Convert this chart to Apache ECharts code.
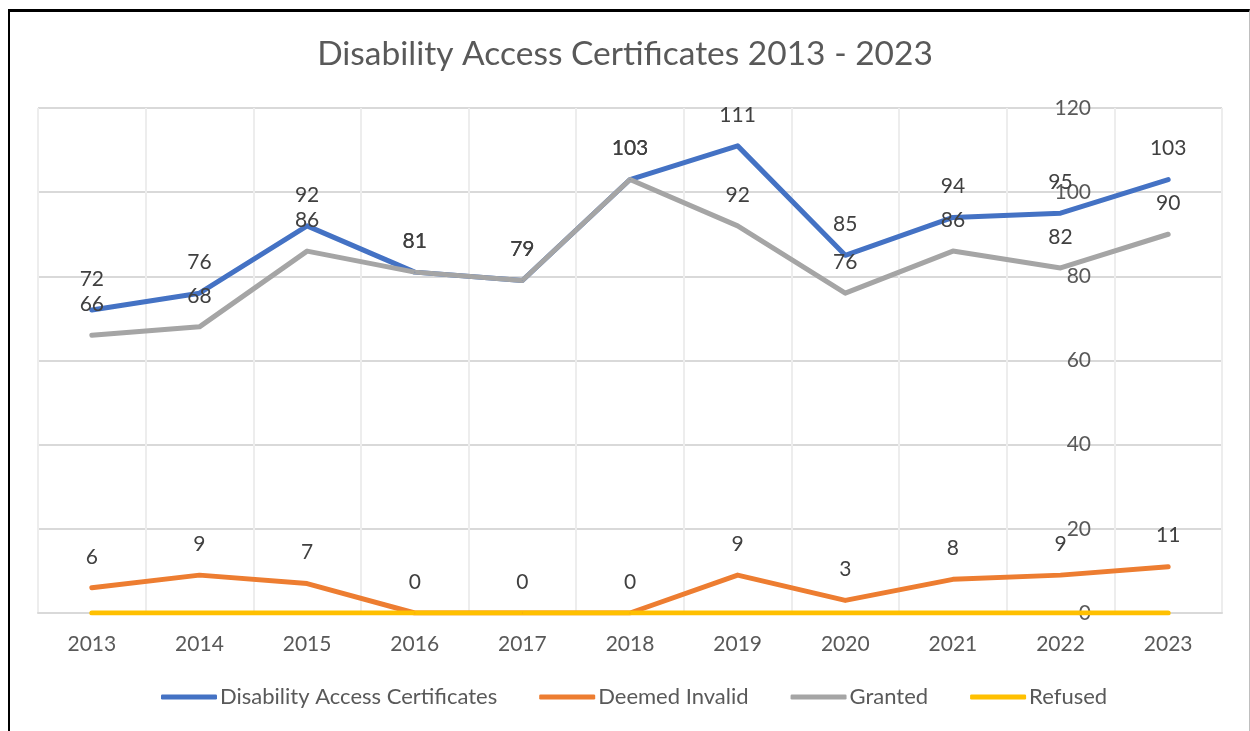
<!DOCTYPE html>
<html><head><meta charset="utf-8">
<script src="https://cdn.jsdelivr.net/npm/echarts@6/dist/echarts.min.js"></script>
<style>
html,body{margin:0;padding:0;background:#fff;}
#c{position:absolute;left:0;top:0;width:1250px;height:731px;}
#frame{position:absolute;left:8px;top:9px;width:1239px;height:740px;border-left:2px solid #000;border-top:3px solid #000;border-right:1px solid #BFBFBF;pointer-events:none;}
</style></head>
<body><div id="c"></div><div id="frame"></div>
<script>
const categories = ['2013','2014','2015','2016','2017','2018','2019','2020','2021','2022','2023'];
const certificates = [72,76,92,81,79,103,111,85,94,95,103];
const deemedInvalid = [6,9,7,0,0,0,9,3,8,9,11];
const granted = [66,68,86,81,79,103,92,76,86,82,90];
const refused = [0,0,0,0,0,0,0,0,0,0,0];
const yTicks = [0,20,40,60,80,100,120];

const FONT = 'Lato, "Open Sans", sans-serif';
const TXT = '#595959';
function ser(name, data, color, showLabel){
  return {
    name, type:'line', data, symbol:'circle', symbolSize:1, showSymbol:true,
    lineStyle:{color, width:5, cap:'round', join:'round'},
    itemStyle:{color},
    label:{show:showLabel, position:'top', distance:20, color:'#404040', fontSize:21, fontFamily:FONT},
    labelLayout:{hideOverlap:false},
    z: 2
  };
}
const chart = echarts.init(document.getElementById('c'));
chart.setOption({
  animation:false,
  title:{text:'Disability Access Certificates 2013 - 2023', left:'center', top:32,
    textStyle:{color:TXT, fontSize:33.5, fontWeight:'normal', fontFamily:FONT}},
  legend:{bottom:18, left:156, itemWidth:56, itemHeight:5, itemGap:42,
    icon:'roundRect',
    textStyle:{color:TXT, fontSize:22, fontFamily:FONT, padding:[0,0,0,-2]},
    data:['Disability Access Certificates','Deemed Invalid','Granted','Refused']},
  grid:{left:38, right:28, top:108, bottom:118},
  xAxis:{type:'category', data:categories, boundaryGap:true,
    axisLine:{lineStyle:{color:'#D9D9D9', width:2}},
    axisTick:{show:false},
    splitLine:{show:true, lineStyle:{color:'#EDEDED', width:2}},
    axisLabel:{color:TXT, fontSize:21, fontFamily:FONT, margin:21}},
  yAxis:{type:'value', position:'right', min:0, max:120, interval:20,
    axisLine:{show:false}, axisTick:{show:false},
    splitLine:{lineStyle:{color:'#D9D9D9', width:2}},
    axisLabel:{color:TXT, fontSize:21, fontFamily:FONT, align:'right', margin:-131,
      formatter: v => yTicks.includes(v) ? String(v) : ''}},
  series:[
    ser('Disability Access Certificates', certificates, '#4472C4', true),
    ser('Deemed Invalid', deemedInvalid, '#ED7D31', true),
    ser('Granted', granted, '#A5A5A5', true),
    ser('Refused', refused, '#FFC000', false)
  ]
});
</script></body></html>
